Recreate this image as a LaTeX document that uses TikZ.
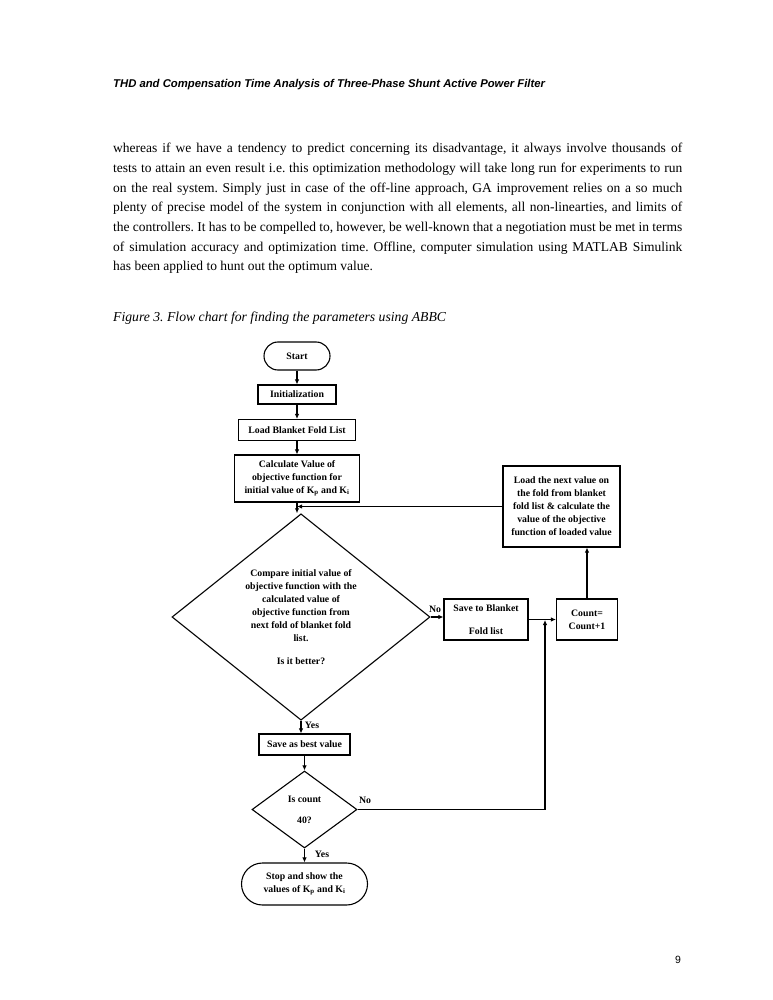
\documentclass[tikz,border=0pt]{standalone}
\usepackage{fontspec}
\setmainfont{Liberation Serif}
\setsansfont{Liberation Sans}
\usetikzlibrary{arrows.meta}
\usetikzlibrary{shapes.geometric}

\newcommand{\flowfont}{\fontsize{9.8}{13}\selectfont\bfseries}
\newcommand{\jline}[1]{\makebox[569pt][s]{#1}}
\frenchspacing

\begin{document}
\begin{tikzpicture}
        [
        x=1pt,y=-1pt,
        every node/.style={inner sep=0pt},
        box/.style={draw,line width=1.1pt,align=center,font=\flowfont},
        term/.style={box,rounded corners=14pt},
        cond/.style={draw,diamond,line width=1.1pt,align=center,font=\flowfont},
        lbl/.style={font=\flowfont},
        >={Latex[length=5pt,width=4.5pt]}
        ]
        \fill[white] (0,0) rectangle (772,1000);
        \useasboundingbox (0,0) rectangle (772,1000);

        % page text
        \node[anchor=west,font=\sffamily\bfseries\itshape\fontsize{11.3}{13}\selectfont] (head) at (113,85)
            {THD and Compensation Time Analysis of Three-Phase Shunt Active Power Filter};
        \node[anchor=north west,align=left,font=\fontsize{13.5}{19.7}\selectfont] (body) at (113,143)
            {\jline{whereas if we have a tendency to predict concerning its disadvantage, it always involve thousands of}\\
             \jline{tests to attain an even result i.e. this optimization methodology will take long run for experiments to run}\\
             \jline{on the real system. Simply just in case of the off-line approach, GA improvement relies on a so much}\\
             \jline{plenty of precise model of the system in conjunction with all elements, all non-linearties, and limits of}\\
             \jline{the controllers. It has to be compelled to, however, be well-known that a negotiation must be met in terms}\\
             \jline{of simulation accuracy and optimization time. Offline, computer simulation using MATLAB Simulink}\\
             has been applied to hunt out the optimum value.};
        \node[anchor=west,font=\itshape\fontsize{13.7}{15}\selectfont] (cap) at (113,318)
            {Figure 3. Flow chart for finding the parameters using ABBC};
        \node[font=\sffamily\fontsize{10.5}{12}\selectfont] (page) at (678,960) {9};

        % flow chart
        \node[term,minimum width=66pt,minimum height=28pt] (start) at (297,356) {Start};
        \node[box,minimum width=78pt,minimum height=19pt] (init) at (297,394.5) {Initialization};
        \node[box,minimum width=117pt,minimum height=21pt] (load) at (297,430) {Load Blanket Fold List};
        \node[box,minimum width=125pt,minimum height=47pt] (calc) at (297,478.5)
            {Calculate Value of\\objective function for\\initial value of K\textsubscript{p} and K\textsubscript{i}};
        \node[cond,minimum width=258pt,minimum height=200pt] (cmp) at (301,617)
            {Compare initial value of\\objective function with the\\calculated value of\\objective function from\\next fold of blanket fold\\list.\\[10pt]Is it better?};
        \node[box,minimum width=117pt,minimum height=81pt] (next) at (561.5,506.5)
            {Load the next value on\\the fold from blanket\\fold list \& calculate the\\value of the objective\\function of loaded value};
        \node[box,minimum width=84pt,minimum height=41pt] (save) at (486,619.5) {Save to Blanket\\[10pt]Fold list};
        \node[box,minimum width=61pt,minimum height=41pt] (count) at (587,619.5) {Count=\\Count+1};
        \node[box,minimum width=91pt,minimum height=21pt] (best) at (304.5,744.5) {Save as best value};
        \node[cond,minimum width=105pt,minimum height=77pt] (chk) at (304.5,809.5) {Is count\\[8pt]40?};
        \node[term,rounded corners=21pt,minimum width=126pt,minimum height=42pt] (stop) at (304.5,884)
            {Stop and show the\\values of K\textsubscript{p} and K\textsubscript{i}};

        \coordinate (join) at (545,620);

        \draw[->,line width=1.1pt] (start) -- (init);
        \draw[->,line width=1.1pt] (init) -- (load);
        \draw[->,line width=1.1pt] (load) -- (calc);
        \draw[->,line width=1.1pt] (calc.south) -- (calc.south |- cmp.north);
        \draw[->,line width=1.1pt] (next.west) -- (next.west -| calc.south);
        \draw[->,line width=1.1pt] (cmp.east) -- (cmp.east -| save.west);
        \draw[->,line width=1.1pt] (save) -- (count);
        \draw[->,line width=1.1pt] (count) -- (count |- next.south);
        \draw[->,line width=1.1pt] (cmp.south) -- (cmp.south |- best.north);
        \draw[->,line width=1.1pt] (best) -- (chk);
        \draw[->,line width=1.1pt] (chk) -- (stop);
        \draw[->,line width=1.1pt] (chk.east) -| (join);

        \node[lbl] (no1) at (435,609) {No};
        \node[lbl] (yes1) at (312,725) {Yes};
        \node[lbl] (no2) at (365,800) {No};
        \node[lbl] (yes2) at (322,854) {Yes};
    \end{tikzpicture}
\end{document}
